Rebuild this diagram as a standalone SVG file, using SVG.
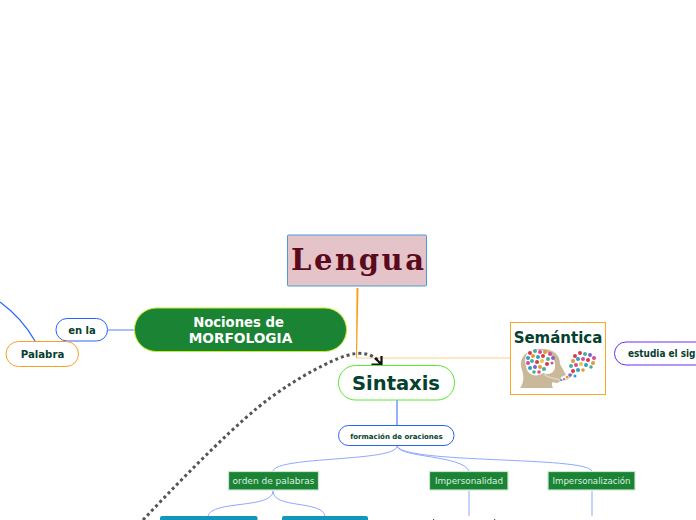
<svg xmlns="http://www.w3.org/2000/svg" width="696" height="520" viewBox="0 0 696 520">
<style>
text{font-family:"DejaVu Sans",Verdana,sans-serif;text-anchor:middle;font-weight:bold;fill:#06402e}
.w{fill:#fff}
.g{font-weight:normal;fill:#dfeee2;font-size:8.800px}
.gb{fill:#1a8434;stroke:#cfe6d4;stroke-width:1.200}
.tb{fill:#1297b8}
.c{fill:none;stroke:#8fa9ff;stroke-width:1}
.r{fill:#d23c4e}.b{fill:#2f9fc4}.p{fill:#d9499a}.t{fill:#43b19a}.o{fill:#e39a2e}.v{fill:#7c62c8}.y{fill:#e7c93a}
</style>
<g id="connectors">
<path d="M356.500 288H358.500L357 358H356Z" fill="#f99f13"/>
<path d="M356.500 358H510" fill="none" stroke="#ffd08a" stroke-width="1"/>
<path d="M108 330H134" fill="none" stroke="#8fa9ff" stroke-width="1.500"/>
<path d="M0 302C15 313 26 325 35 341" fill="none" stroke="#2962ff" stroke-width="1.200"/>
<path d="M397 400V425" fill="none" stroke="#2962ff" stroke-width="1"/>
<path class="c" d="M397 446C397 462 277 456 273 471"/>
<path class="c" d="M397 446C400 458 462 455 469 471"/>
<path class="c" d="M397 446C404 464 585 456 592 471"/>
<path class="c" d="M273 491C273 509 212 500 208 516"/>
<path class="c" d="M273 491C273 509 322 500 325 516"/>
<path class="c" d="M469 491V516"/>
<path class="c" d="M592 491V516"/>
<path d="M143 520C190 470 240 420 270 398C300 376 330 361 345 356C360 351 372 353 381 363" fill="none" stroke="#555" stroke-width="3" stroke-dasharray="3 3"/>
<path d="M381.500 356V364.500H371.500M375 358L381.500 364.500" fill="none" stroke="#111" stroke-width="2.200"/>
</g>
<g id="lengua">
<rect x="287.500" y="235" width="139" height="51" rx="1" fill="#e4c3c9" stroke="#4d9bd6" stroke-width="1"/>
<text x="291" y="270" style="font-family:'DejaVu Serif',serif;font-size:29px;font-weight:bold;fill:#5a0a1c;text-anchor:start" textLength="133" lengthAdjust="spacing">Lengua</text>
</g>
<g id="nociones">
<rect x="134.500" y="308" width="212" height="43.500" rx="21.700" fill="#1a8434" stroke="#c8ee1e" stroke-width="1"/>
<text class="w" x="238.500" y="326.500" font-size="13.200">Nociones de</text>
<text class="w" x="240.500" y="343" font-size="13.700">MORFOLOGIA</text>
</g>
<g id="enla">
<rect x="56" y="318.500" width="51.500" height="22.500" rx="11" fill="#fff" stroke="#2962ff" stroke-width="1"/>
<text x="82" y="334" font-size="10">en la</text>
</g>
<g id="palabra">
<rect x="6" y="341.500" width="72.500" height="25" rx="12.500" fill="#fff" stroke="#f9a020" stroke-width="1"/>
<text x="42.500" y="358" font-size="10.200">Palabra</text>
</g>
<g id="sintaxis">
<rect x="338.500" y="365.500" width="116" height="34.500" rx="17" fill="#fff" stroke="#5ae82e" stroke-width="1"/>
<text x="396" y="390" font-size="19.500">Sintaxis</text>
</g>
<g id="semantica">
<rect x="510.500" y="322.500" width="95" height="72" fill="#fff" stroke="#f9a825" stroke-width="1"/>
<text x="558" y="343" font-size="15">Semántica</text>
<path d="M520 388C524 383 524 376 522 370C518 358 526 349 542 349C555 349 560 356 560 364L566 375L561 377C561 383 557 384 553 382C551 384 552 386 553 388Z" fill="#c9b99a"/>
<path d="M529 351C541 348 554 352 555 364C556 372 550 376 543 373C536 378 527 375 526 366C524 359 526 354 529 351Z" fill="#fff"/>
<path d="M544 374C548 378 554 378 560 380C566 381 570 378 573 373" fill="none" stroke="#ded4c2" stroke-width="1.500"/>
<g>
<circle cx="530" cy="353" r="2" class="r"/><circle cx="535" cy="351" r="2" class="t"/><circle cx="540" cy="352" r="2" class="p"/><circle cx="545" cy="352" r="2" class="o"/><circle cx="550" cy="354" r="2" class="p"/><circle cx="553" cy="358" r="2" class="v"/>
<circle cx="528" cy="358" r="2" class="b"/><circle cx="533" cy="356" r="2" class="o"/><circle cx="538" cy="357" r="2" class="b"/><circle cx="543" cy="356" r="2" class="r"/><circle cx="548" cy="359" r="2" class="t"/>
<circle cx="528" cy="363" r="2" class="p"/><circle cx="532" cy="361" r="2" class="t"/><circle cx="537" cy="362" r="2" class="r"/><circle cx="542" cy="361" r="2" class="y"/><circle cx="547" cy="364" r="2" class="r"/><circle cx="552" cy="363" r="1.500" class="p"/>
<circle cx="530" cy="368" r="2" class="b"/><circle cx="535" cy="367" r="2" class="v"/><circle cx="540" cy="367" r="2" class="o"/><circle cx="544" cy="369" r="2" class="t"/><circle cx="534" cy="372" r="1.800" class="t"/><circle cx="539" cy="372" r="1.800" class="p"/>
<circle cx="575" cy="356" r="2" class="r"/><circle cx="580" cy="353" r="2" class="r"/><circle cx="585" cy="354" r="2" class="t"/><circle cx="590" cy="355" r="2" class="v"/><circle cx="594" cy="358" r="2" class="p"/>
<circle cx="573" cy="361" r="2" class="o"/><circle cx="578" cy="359" r="2" class="b"/><circle cx="583" cy="359" r="2" class="p"/><circle cx="588" cy="360" r="2" class="r"/><circle cx="593" cy="363" r="2" class="o"/>
<circle cx="571" cy="366" r="2" class="t"/><circle cx="576" cy="365" r="2" class="p"/><circle cx="581" cy="364" r="2" class="y"/><circle cx="586" cy="365" r="2" class="b"/><circle cx="591" cy="367" r="1.800" class="t"/>
<circle cx="573" cy="371" r="2" class="r"/><circle cx="578" cy="370" r="2" class="b"/><circle cx="583" cy="370" r="1.800" class="o"/><circle cx="570" cy="375" r="1.800" class="v"/><circle cx="575" cy="376" r="1.500" class="b"/><circle cx="567" cy="377" r="1.300" class="o"/><circle cx="564" cy="379" r="1" class="p"/><circle cx="561" cy="380" r="1" class="b"/>
</g>
</g>
<g id="estudia">
<rect x="614.500" y="342" width="100" height="23" rx="11.500" fill="#fff" stroke="#6a2cf5" stroke-width="1"/>
<text x="628" y="357" font-size="10" style="text-anchor:start" textLength="67.500" lengthAdjust="spacingAndGlyphs">estudia el sig</text>
</g>
<g id="formacion">
<rect x="338.500" y="425.500" width="115.500" height="20" rx="10" fill="#fff" stroke="#2962ff" stroke-width="1"/>
<text x="396.500" y="438.500" font-size="7">formación de oraciones</text>
</g>
<g id="orden">
<rect class="gb" x="228.500" y="471.500" width="90" height="18.500"/>
<text class="g" x="273.500" y="484" style="font-size:9px">orden de palabras</text>
</g>
<g id="impersonalidad">
<rect class="gb" x="429.500" y="471.500" width="78.500" height="18.500"/>
<text class="g" x="469" y="484">Impersonalidad</text>
</g>
<g id="impersonalizacion">
<rect class="gb" x="548" y="471.500" width="87" height="18.500"/>
<text class="g" x="591.500" y="484" style="font-size:8.600px">Impersonalización</text>
</g>
<g id="caja1"><rect class="tb" x="160" y="516" width="97.500" height="8" rx="2"/></g>
<g id="caja2"><rect class="tb" x="282" y="516" width="86" height="8" rx="2"/></g>
<rect x="433" y="519" width="1.200" height="1" fill="#555"/>
<rect x="494" y="519" width="1.200" height="1" fill="#555"/>
</svg>
